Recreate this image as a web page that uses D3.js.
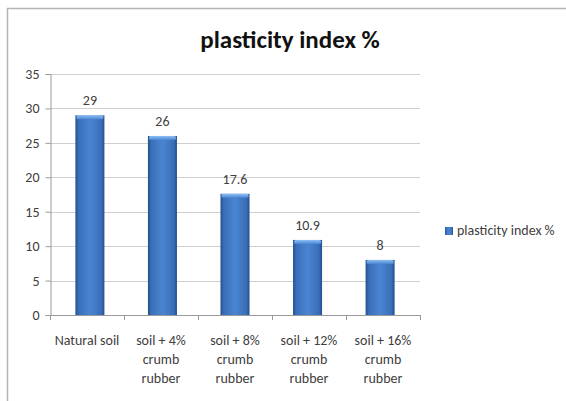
<!DOCTYPE html>
<html>
<head>
<meta charset="utf-8">
<script src="https://cdn.jsdelivr.net/npm/d3@7/dist/d3.min.js"></script>
<style>
  html, body { margin: 0; padding: 0; background: #fff; }
  svg { display: block; font-family: Carlito, "Open Sans", "Liberation Sans", sans-serif; }
</style>
</head>
<body>
<svg id="chart" width="566" height="401"></svg>
<script>
// Plasticity index by crumb rubber content
const categories = [
  ["Natural soil"],
  ["soil + 4%", "crumb", "rubber"],
  ["soil + 8%", "crumb", "rubber"],
  ["soil + 12%", "crumb", "rubber"],
  ["soil + 16%", "crumb", "rubber"]
];
const values = [29, 26, 17.6, 10.9, 8];
const valueLabels = ["29", "26", "17.6", "10.9", "8"];
const yTicks = [0, 5, 10, 15, 20, 25, 30, 35];
const seriesName = "plasticity index %";

const svg = d3.select("#chart");

// chart frame
svg.append("path")
  .attr("d", "M7.5,401 V8.5 H566")
  .attr("fill", "none").attr("stroke", "#b4b4b4").attr("stroke-width", 1.5);

// bar gradient (bevelled blue)
const defs = svg.append("defs");
const g1 = defs.append("linearGradient").attr("id", "barGrad").attr("x1", 0).attr("x2", 1).attr("y1", 0).attr("y2", 0);
[[0, "#23508f"], [0.12, "#3a6fb8"], [0.5, "#4a85d2"], [0.88, "#3a6fb8"], [1, "#23508f"]]
  .forEach(([o, c]) => g1.append("stop").attr("offset", o).attr("stop-color", c));
const g2 = defs.append("linearGradient").attr("id", "capGrad").attr("x1", 0).attr("x2", 0).attr("y1", 0).attr("y2", 1);
[[0, "#8fc0f5"], [1, "#4a85d2"]]
  .forEach(([o, c]) => g2.append("stop").attr("offset", o).attr("stop-color", c));

const x = d3.scaleBand().domain(d3.range(categories.length)).range([50, 420]).paddingInner(0.6).paddingOuter(0.35);
const xOuter = d3.scaleBand().domain(d3.range(categories.length)).range([50, 420]);
const y = d3.scaleLinear().domain([0, 35]).range([315, 74]);

// gridlines
svg.append("g").selectAll("line").data(yTicks.filter(d => d > 0)).join("line")
  .attr("x1", 50).attr("x2", 420)
  .attr("y1", d => Math.round(y(d)) + 0.5).attr("y2", d => Math.round(y(d)) + 0.5)
  .attr("stroke", "#cfcfcf").attr("stroke-width", 1.2);

// y axis
const yAxis = svg.append("g").attr("transform", "translate(50.5,0)")
  .call(d3.axisLeft(y).tickValues(yTicks).tickSize(5).tickPadding(6).tickFormat(d3.format("d")));
yAxis.select(".domain").attr("stroke", "#9a9a9a");
yAxis.selectAll(".tick line").attr("stroke", "#9a9a9a");
yAxis.selectAll("text").attr("font-size", 14).attr("font-family", "Carlito, 'Open Sans', sans-serif").attr("fill", "#404040");

// x axis baseline and ticks
svg.append("line").attr("x1", 50).attr("x2", 420).attr("y1", 315.5).attr("y2", 315.5)
  .attr("stroke", "#9a9a9a");
svg.append("g").selectAll("line").data(d3.range(categories.length + 1)).join("line")
  .attr("x1", i => Math.round(50 + i * xOuter.step()) + 0.5)
  .attr("x2", i => Math.round(50 + i * xOuter.step()) + 0.5)
  .attr("y1", 315).attr("y2", 320).attr("stroke", "#9a9a9a");

// bars
const bars = svg.append("g").selectAll("g").data(values).join("g");
bars.append("rect")
  .attr("x", (d, i) => x(i)).attr("width", x.bandwidth())
  .attr("y", d => y(d)).attr("height", d => y(0) - y(d))
  .attr("fill", "url(#barGrad)");
bars.append("rect")
  .attr("x", (d, i) => x(i) + 1).attr("width", x.bandwidth() - 2)
  .attr("y", d => y(d)).attr("height", 4).attr("rx", 1.5)
  .attr("fill", "url(#capGrad)");

// value labels
svg.append("g").selectAll("text").data(values).join("text")
  .attr("x", (d, i) => x(i) + x.bandwidth() / 2)
  .attr("y", d => y(d) - 10)
  .attr("text-anchor", "middle").attr("font-size", 14).attr("fill", "#404040")
  .text((d, i) => valueLabels[i]);

// category labels
const catG = svg.append("g").selectAll("text").data(categories).join("text")
  .attr("x", (d, i) => xOuter(i) + xOuter.bandwidth() / 2)
  .attr("y", 345)
  .attr("text-anchor", "middle").attr("font-size", 14).attr("fill", "#404040");
catG.selectAll("tspan").data(d => d).join("tspan")
  .attr("x", function() { return d3.select(this.parentNode).attr("x"); })
  .attr("dy", (d, j) => j === 0 ? 0 : 19)
  .text(d => d);

// title
svg.append("text").attr("x", 290).attr("y", 48)
  .attr("text-anchor", "middle").attr("font-size", 25).attr("font-weight", "bold")
  .attr("fill", "#111").text(seriesName);

// legend
svg.append("rect").attr("x", 445).attr("y", 227).attr("width", 8).attr("height", 8)
  .attr("fill", "url(#barGrad)");
svg.append("text").attr("x", 457).attr("y", 235)
  .attr("font-size", 14).attr("fill", "#404040").text(seriesName);
</script>
</body>
</html>
